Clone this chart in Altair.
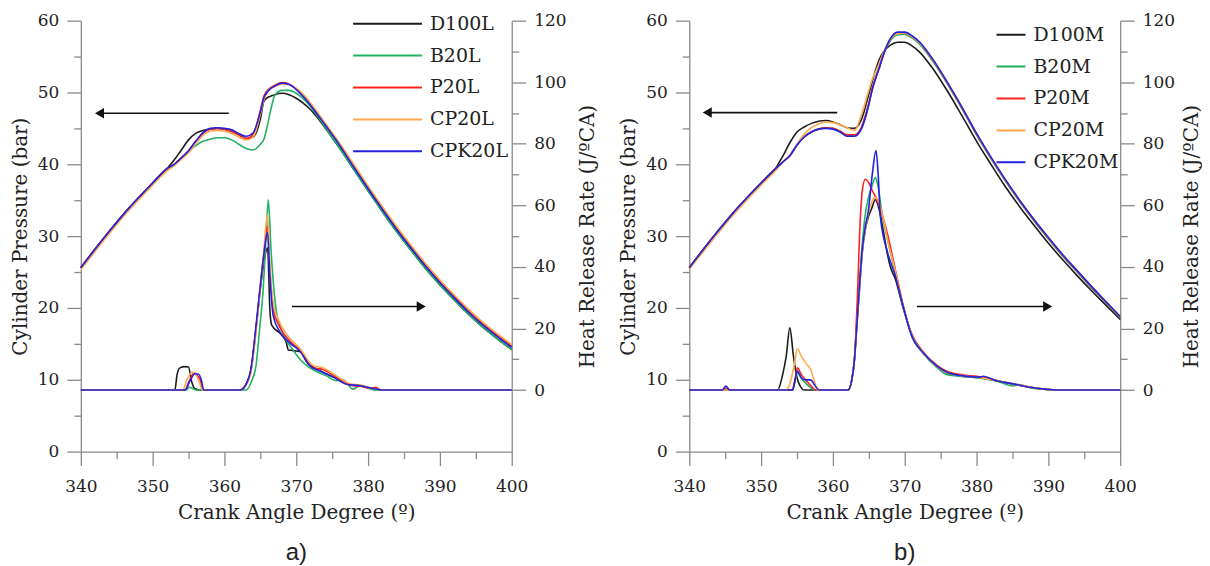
import altair as alt
import pandas as pd

SERIES_A = ["D100L", "B20L", "P20L", "CP20L", "CPK20L"]
SERIES_B = ["D100M", "B20M", "P20M", "CP20M", "CPK20M"]
COLORS = ["#1c1c1c", "#22b262", "#ff2020", "#ffa84e", "#2222e0"]
X_TICKS = list(range(340, 401, 5))
P_TICKS = list(range(0, 61, 5))
H_TICKS = list(range(0, 121, 10))

# ---------------- cylinder pressure (bar) ----------------
ANG_P = [340, 342, 344, 346, 348, 350, 352, 353, 354, 355, 356, 357, 358, 359, 360, 361, 362, 363, 364,
         365, 365.5, 366, 366.5, 367, 368, 369, 370, 371, 372, 374, 376, 378, 380, 382, 384, 386, 388,
         390, 392, 394, 396, 398, 400]

PA_D100L = [25.6, 28.2, 30.7, 33.1, 35.3, 37.4, 39.4, 40.6, 42.0, 43.4, 44.3, 44.7, 44.9, 45.0, 44.9, 44.6, 44.1, 43.6, 43.8,
            46.3, 48.8, 49.3, 49.5, 49.7, 49.9, 49.7, 49.2, 48.5, 47.6, 45.1, 42.3, 39.3, 36.3, 33.4, 30.6, 28.0, 25.5,
            23.2, 21.1, 19.1, 17.3, 15.7, 14.2]
PA_B20L = [25.6, 28.2, 30.7, 33.1, 35.3, 37.4, 39.4, 40.0, 40.9, 41.8, 42.6, 43.2, 43.5, 43.7, 43.7, 43.4, 42.8, 42.2, 42.0,
           42.8, 43.5, 45.5, 47.8, 49.6, 50.3, 50.3, 49.9, 49.1, 48.0, 45.2, 42.3, 39.3, 36.3, 33.4, 30.6, 28.0, 25.5,
           23.2, 21.1, 19.1, 17.3, 15.7, 14.2]
PA_P20L = [25.6, 28.2, 30.7, 33.1, 35.3, 37.4, 39.4, 40.0, 40.9, 41.9, 43.2, 44.3, 44.9, 45.0, 44.9, 44.6, 44.1, 43.6, 44.2,
           47.5, 49.5, 50.3, 50.7, 51.0, 51.4, 51.2, 50.5, 49.5, 48.3, 45.6, 42.8, 39.8, 36.8, 33.9, 31.1, 28.5, 26.0,
           23.7, 21.6, 19.6, 17.8, 16.2, 14.7]
PA_CP20L = [25.3, 27.9, 30.4, 32.8, 35.0, 37.1, 39.1, 39.8, 40.7, 41.6, 42.9, 44.0, 44.6, 44.7, 44.6, 44.3, 43.8, 43.4, 43.8,
            47.0, 49.0, 50.1, 50.6, 50.8, 51.2, 51.1, 50.6, 49.7, 48.5, 45.8, 43.0, 40.0, 37.0, 34.1, 31.3, 28.7, 26.2,
            23.9, 21.8, 19.8, 18.0, 16.4, 14.9]
PA_CPK20L = [25.6, 28.2, 30.7, 33.1, 35.3, 37.4, 39.4, 40.0, 40.9, 41.9, 43.2, 44.4, 45.0, 45.1, 45.0, 44.8, 44.3, 43.9, 44.4,
             47.3, 49.3, 50.1, 50.6, 50.9, 51.3, 51.1, 50.4, 49.4, 48.2, 45.5, 42.7, 39.6, 36.6, 33.7, 30.9, 28.3, 25.8,
             23.5, 21.4, 19.4, 17.6, 16.0, 14.5]

PB_D100M = [25.6, 28.2, 30.7, 33.1, 35.3, 37.4, 39.4, 41.1, 43.0, 44.5, 45.2, 45.7, 46.0, 46.1, 45.9, 45.5, 45.1, 45.0, 46.3,
            49.8, 51.6, 53.3, 54.7, 55.6, 56.6, 57.0, 57.0, 56.5, 55.7, 53.2, 50.1, 46.7, 43.2, 40.0, 36.9, 34.1, 31.5,
            29.0, 26.7, 24.5, 22.4, 20.4, 18.4]
PB_B20M = [25.6, 28.2, 30.7, 33.1, 35.3, 37.4, 39.4, 40.3, 41.2, 42.7, 43.8, 44.5, 44.9, 45.1, 45.0, 44.6, 44.1, 44.1, 45.2,
           48.5, 50.6, 52.2, 53.6, 55.1, 57.2, 58.0, 58.1, 57.6, 56.8, 54.2, 51.1, 47.7, 44.1, 40.8, 37.7, 34.8, 32.1,
           29.6, 27.2, 25.0, 22.8, 20.7, 18.6]
PB_P20M = [25.6, 28.2, 30.7, 33.1, 35.3, 37.4, 39.4, 40.3, 41.2, 42.7, 43.8, 44.5, 44.9, 45.1, 45.0, 44.6, 44.1, 44.1, 45.2,
           48.5, 50.6, 52.2, 53.6, 55.2, 57.4, 58.3, 58.3, 57.8, 57.0, 54.4, 51.2, 47.8, 44.2, 40.9, 37.8, 34.9, 32.2,
           29.7, 27.3, 25.1, 22.9, 20.8, 18.7]
PB_CP20M = [25.4, 27.9, 30.4, 32.8, 35.0, 37.1, 39.1, 40.3, 41.3, 42.8, 44.2, 45.1, 45.6, 45.9, 45.8, 45.5, 45.1, 44.7, 47.0,
            50.3, 51.9, 53.0, 54.2, 55.5, 57.4, 58.2, 58.3, 57.8, 57.0, 54.5, 51.3, 47.9, 44.3, 41.0, 37.9, 35.0, 32.3,
            29.8, 27.4, 25.2, 23.0, 20.9, 18.8]
PB_CPK20M = [25.6, 28.2, 30.7, 33.1, 35.3, 37.4, 39.4, 40.3, 41.2, 42.7, 43.8, 44.5, 44.9, 45.0, 44.9, 44.5, 43.9, 43.9, 45.0,
             48.3, 50.5, 52.1, 53.6, 55.2, 57.5, 58.4, 58.4, 57.9, 57.1, 54.5, 51.3, 47.9, 44.3, 41.0, 37.9, 35.0, 32.3,
             29.8, 27.4, 25.2, 23.0, 20.9, 18.8]

# ---------------- heat release rate (J/ºCA) ----------------
HA_D100L_X = [340, 353.1, 353.4, 353.8, 354.5, 355.0, 355.4, 355.9, 356.5, 362.2, 363.0, 363.7, 364.4, 364.9, 365.4, 366.0,
              366.35, 366.6, 367.7, 368.6, 368.9, 370.0, 370.6, 371.5, 372.3, 373.3, 375.2, 377.0, 378.9, 380.7, 382.0, 400]
HA_D100L_Y = [0, 0, 5.0, 7.2, 7.6, 7.5, 3.0, 0.4, 0, 0, 1.8, 6.5, 20.0, 31.0, 40.0, 46.2,
              25.0, 21.0, 18.5, 15.5, 13.0, 12.7, 12.5, 9.0, 7.5, 6.3, 4.2, 2.0, 1.4, 0.5, 0, 0]
HA_B20L_X = [340, 354.7, 355.1, 355.6, 356.0, 363.0, 363.8, 364.4, 364.9, 365.4, 365.8, 366.1, 366.5, 367.2, 368.1, 369.5,
             370.5, 371.9, 374.2, 375.6, 376.5, 377.9, 378.9, 380.2, 381.0, 400]
HA_B20L_Y = [0, 0, 0.9, 0.5, 0, 0, 3.0, 8.0, 20.0, 33.0, 50.0, 61.8, 45.0, 26.0, 18.6, 13.2,
             10.0, 7.2, 4.6, 3.0, 3.3, 0.3, 1.5, 0.4, 0, 0]
HA_P20L_X = [340, 354.5, 355.1, 355.8, 356.3, 356.6, 357.0, 362.2, 363.0, 363.7, 364.4, 364.9, 365.4, 366.0,
             366.3, 366.8, 367.7, 369.5, 370.5, 372.3, 373.7, 375.6, 377.5, 378.9, 380.3, 381.1, 381.7, 400]
HA_P20L_Y = [0, 0, 3.0, 5.6, 4.5, 3.5, 0, 0, 1.8, 6.7, 20.0, 31.5, 42.0, 53.2,
             40.0, 26.0, 20.5, 15.0, 13.2, 7.2, 6.7, 4.1, 1.6, 1.2, 0.6, 0.9, 0, 0]
HA_CP20L_X = [340, 354.2, 354.8, 355.5, 356.0, 356.6, 356.9, 362.2, 363.0, 363.7, 364.4, 364.9, 365.4, 366.0,
              366.3, 366.8, 367.7, 369.5, 370.5, 372.3, 373.7, 375.6, 377.5, 378.9, 380.5, 382.0, 400]
HA_CP20L_Y = [0, 0, 3.5, 5.8, 5.0, 2.0, 0, 0, 1.5, 6.0, 19.0, 31.0, 43.0, 57.1,
              42.0, 28.0, 22.0, 15.8, 13.5, 8.0, 7.2, 4.6, 2.0, 1.6, 0.6, 0, 0]
HA_CPK20L_X = [340, 354.5, 355.2, 355.9, 356.4, 356.8, 357.1, 362.2, 363.0, 363.7, 364.4, 364.9, 365.4, 366.0,
               366.3, 366.8, 367.7, 369.1, 370.5, 371.9, 373.3, 375.2, 377.0, 378.9, 380.7, 382.0, 400]
HA_CPK20L_Y = [0, 0, 3.0, 5.3, 5.1, 3.0, 0, 0, 1.8, 7.0, 21.0, 32.0, 42.5, 51.2,
               38.0, 24.0, 19.0, 15.3, 12.6, 7.8, 6.2, 4.1, 1.9, 1.4, 0.5, 0, 0]

HB_D100M_X = [340, 352.3, 353.0, 353.5, 354.0, 354.5, 355.0, 355.5, 356.0, 362.1, 362.6, 363.0, 363.3, 363.7, 364.1, 364.5,
              364.9, 365.4, 365.9, 366.4, 367.0, 367.6, 368.0, 368.7, 369.8, 370.9, 372.6, 374.5, 375.9, 378.2, 380.5,
              382.8, 385.1, 387.5, 389.8, 391.0, 400]
HB_D100M_Y = [0, 0, 5.0, 11.0, 20.2, 11.0, 4.0, 1.0, 0, 0, 3.0, 10.0, 20.0, 33.0, 45.0, 52.0,
              56.0, 59.0, 61.8, 59.0, 52.0, 44.0, 40.0, 36.0, 26.5, 18.5, 12.0, 7.6, 5.5, 4.4, 4.0,
              3.0, 1.9, 0.9, 0.2, 0, 0]
HB_B20M_X = [340, 354.4, 354.7, 355.05, 355.6, 356.3, 357.0, 357.6, 362.1, 362.6, 363.0, 363.3, 363.7, 364.1, 364.5, 364.9,
             365.4, 365.9, 366.3, 366.8, 367.6, 368.7, 369.8, 370.9, 372.6, 374.5, 375.9, 378.2, 380.5, 382.8, 385.1,
             386.0, 387.5, 389.8, 391.0, 400]
HB_B20M_Y = [0, 0, 2.5, 5.7, 3.8, 2.0, 0.6, 0, 0, 3.0, 10.0, 21.0, 35.0, 48.0, 57.0, 62.0,
             66.0, 69.0, 66.0, 58.0, 49.0, 38.0, 27.0, 18.0, 11.8, 7.3, 5.0, 4.4, 3.8, 2.9, 1.3,
             1.8, 0.7, 0.2, 0, 0]
HB_P20M_X = [340, 344.6, 345.1, 345.6, 354.3, 354.7, 355.05, 355.6, 356.3, 357.0, 357.6, 362.1, 362.6, 363.0, 363.4, 363.8,
             364.1, 364.5, 365.0, 365.5, 366.0, 366.6, 367.6, 368.7, 369.8, 370.9, 372.6, 374.5, 375.9, 378.2, 380.5,
             382.8, 385.1, 387.5, 389.8, 391.0, 400]
HB_P20M_Y = [0, 0, 0.6, 0, 0, 3.0, 7.2, 5.0, 3.0, 1.2, 0, 0, 3.0, 10.0, 30.0, 55.0,
             65.0, 68.5, 67.3, 64.7, 62.5, 58.8, 50.6, 39.0, 27.3, 18.5, 12.3, 8.0, 6.0, 4.9, 4.3,
             3.1, 2.0, 0.9, 0.2, 0, 0]
HB_CP20M_X = [340, 353.4, 354.0, 354.6, 355.05, 355.6, 356.3, 356.9, 357.4, 357.9, 362.1, 362.6, 363.0, 363.3, 363.7, 364.1,
              364.5, 364.9, 365.4, 365.9, 366.4, 367.0, 367.6, 368.7, 369.8, 370.9, 372.6, 374.5, 375.9, 378.2, 380.5,
              382.8, 385.1, 387.5, 389.8, 391.0, 400]
HB_CP20M_Y = [0, 0, 2.0, 8.0, 13.4, 11.0, 8.5, 6.7, 3.0, 0, 0, 3.0, 10.0, 20.0, 33.0, 45.0,
              52.0, 57.0, 61.0, 62.6, 61.0, 56.0, 49.0, 38.5, 27.0, 18.3, 12.0, 7.7, 5.6, 4.6, 4.0,
              3.1, 2.0, 1.0, 0.2, 0, 0]
HB_CPK20M_X = [340, 344.6, 345.1, 345.6, 354.4, 354.7, 355.05, 355.6, 356.2, 356.9, 357.5, 358.1, 362.1, 362.6, 363.0, 363.3,
               363.7, 364.1, 364.5, 364.9, 365.5, 366.0, 366.3, 366.6, 367.6, 368.7, 369.8, 370.9, 372.6, 374.5, 375.9,
               378.2, 380.5, 380.9, 382.8, 385.1, 387.5, 389.8, 391.0, 400]
HB_CPK20M_Y = [0, 0, 1.3, 0, 0, 3.0, 6.2, 4.0, 3.3, 3.3, 1.5, 0, 0, 3.0, 10.0, 20.0,
               34.0, 46.0, 53.0, 57.7, 70.5, 77.8, 70.0, 56.5, 44.8, 37.0, 27.0, 18.0, 12.0, 7.8, 5.8,
               4.6, 4.2, 4.5, 3.0, 2.0, 0.9, 0.2, 0, 0]

# ---------------- arrows (start angle, end angle, pressure level) ----------------
ARROWS_A = [(360.6, 342.6, 47.1), (369.4, 387.4, 20.2)]
ARROWS_B = [(360.6, 342.5, 47.2), (371.7, 389.9, 20.2)]

SERIF = "DejaVu Serif"
AXIS_GREY = "#8a8a8a"
TXT = "#222222"


def pressure_df(series, lists):
    rows = []
    for s, vals in zip(series, lists):
        for a, v in zip(ANG_P, vals):
            rows.append({"series": s, "angle": a, "value": v})
    return pd.DataFrame(rows)


def hrr_df(series, xs, ys):
    rows = []
    for s, xl, yl in zip(series, xs, ys):
        for a, v in zip(xl, yl):
            rows.append({"series": s, "angle": a, "value": v})
    return pd.DataFrame(rows)


def arrow_df(arrows):
    rows = []
    for x1, x2, y in arrows:
        rows.append({"x1": x1, "x2": x2, "y": y, "shape": "triangle-left" if x2 < x1 else "triangle-right"})
    return pd.DataFrame(rows)


def tick_len(step):
    return {"condition": {"test": f"datum.value % {step} === 0", "value": 14}, "value": 7}


X_SCALE = alt.Scale(domain=[340, 400], nice=False, zero=False)
P_SCALE = alt.Scale(domain=[0, 60], nice=False, zero=False)
H_SCALE = alt.Scale(domain=[-20, 120], nice=False, zero=False)

AXIS_STYLE = dict(grid=False, domainColor=AXIS_GREY, tickColor=AXIS_GREY, domainWidth=1.3, tickWidth=1.3,
                  labelFont=SERIF, labelFontSize=17, labelColor=TXT,
                  titleFont=SERIF, titleFontSize=20, titleFontWeight="normal", titleColor=TXT)

x_axis = alt.Axis(values=X_TICKS, labelExpr="datum.value % 10 === 0 ? datum.label : ''",
                  tickSize=tick_len(10), title="Crank Angle Degree (º)", titlePadding=8, labelPadding=13,
                  labelFlush=False, **AXIS_STYLE)
left_axis = alt.Axis(values=P_TICKS, labelExpr="datum.value % 10 === 0 ? datum.label : ''",
                     tickSize=tick_len(10), title="Cylinder Pressure (bar)", titlePadding=7, labelPadding=8,
                     **AXIS_STYLE)


def right_axis(title_pad):
    return alt.Axis(values=H_TICKS, labelExpr="datum.value % 20 === 0 ? datum.label : ''",
                    tickSize=tick_len(20), orient="right", title="Heat Release Rate (J/ºCA)",
                    titleAngle=270, titleBaseline="top",
                    titlePadding=title_pad, labelPadding=8, **AXIS_STYLE)


def panel(series, p_lists, h_xs, h_ys, arrows, caption, legend_x, legend_y, sym_size, lab_off, r_pad):
    color_scale = alt.Scale(domain=series, range=COLORS)
    legend = alt.Legend(title=None, orient="none", legendX=legend_x, legendY=legend_y,
                        symbolType="stroke", symbolSize=sym_size, symbolStrokeWidth=2,
                        labelFont=SERIF, labelFontSize=19, labelColor=TXT, labelOffset=lab_off,
                        clipHeight=22, rowPadding=10, padding=0)
    pdf = pressure_df(series, p_lists)
    hdf = hrr_df(series, h_xs, h_ys)
    adf = arrow_df(arrows)

    pres = alt.Chart(pdf).mark_line(strokeWidth=1.6, interpolate="monotone").encode(
        x=alt.X("angle:Q", scale=X_SCALE, axis=x_axis),
        y=alt.Y("value:Q", scale=P_SCALE, axis=left_axis),
        color=alt.Color("series:N", scale=color_scale, legend=legend, sort=series),
    )
    rule = alt.Chart(adf).mark_rule(color="#111111", strokeWidth=1.6).encode(
        x=alt.X("x1:Q", scale=X_SCALE, axis=x_axis),
        x2="x2:Q",
        y=alt.Y("y:Q", scale=P_SCALE, axis=left_axis),
    )
    head = alt.Chart(adf).mark_point(filled=True, color="#111111", opacity=1, size=110).encode(
        x=alt.X("x2:Q", scale=X_SCALE, axis=x_axis),
        y=alt.Y("y:Q", scale=P_SCALE, axis=left_axis),
        shape=alt.Shape("shape:N", scale=None),
    )
    hrr = alt.Chart(hdf).mark_line(strokeWidth=1.6, interpolate="monotone").encode(
        x=alt.X("angle:Q", scale=X_SCALE, axis=x_axis),
        y=alt.Y("value:Q", scale=H_SCALE, axis=right_axis(r_pad)),
        color=alt.Color("series:N", scale=color_scale, legend=legend, sort=series),
    )
    left = alt.layer(pres, rule, head)
    return alt.layer(left, hrr).resolve_scale(y="independent").properties(
        width=432, height=432,
        title=alt.TitleParams(caption, orient="bottom", font="Liberation Sans", fontSize=24,
                              fontWeight="normal", color=TXT, offset=19),
    )


panel_a = panel(SERIES_A, [PA_D100L, PA_B20L, PA_P20L, PA_CP20L, PA_CPK20L],
                [HA_D100L_X, HA_B20L_X, HA_P20L_X, HA_CP20L_X, HA_CPK20L_X],
                [HA_D100L_Y, HA_B20L_Y, HA_P20L_Y, HA_CP20L_Y, HA_CPK20L_Y],
                ARROWS_A, "a)", 272, -8, 4761, 7, 12)
panel_b = panel(SERIES_B, [PB_D100M, PB_B20M, PB_P20M, PB_CP20M, PB_CPK20M],
                [HB_D100M_X, HB_B20M_X, HB_P20M_X, HB_CP20M_X, HB_CPK20M_X],
                [HB_D100M_Y, HB_B20M_Y, HB_P20M_Y, HB_CP20M_Y, HB_CPK20M_Y],
                ARROWS_B, "b)", 307, 3, 841, 7, 7)

chart = alt.hconcat(panel_a, panel_b, spacing=20).resolve_scale(color="independent").properties(
    padding={"left": 2, "top": 3, "right": 0, "bottom": 0}, background="white"
).configure_view(stroke=None)

chart.save("out.html", embed_options={"renderer": "svg", "actions": False})
